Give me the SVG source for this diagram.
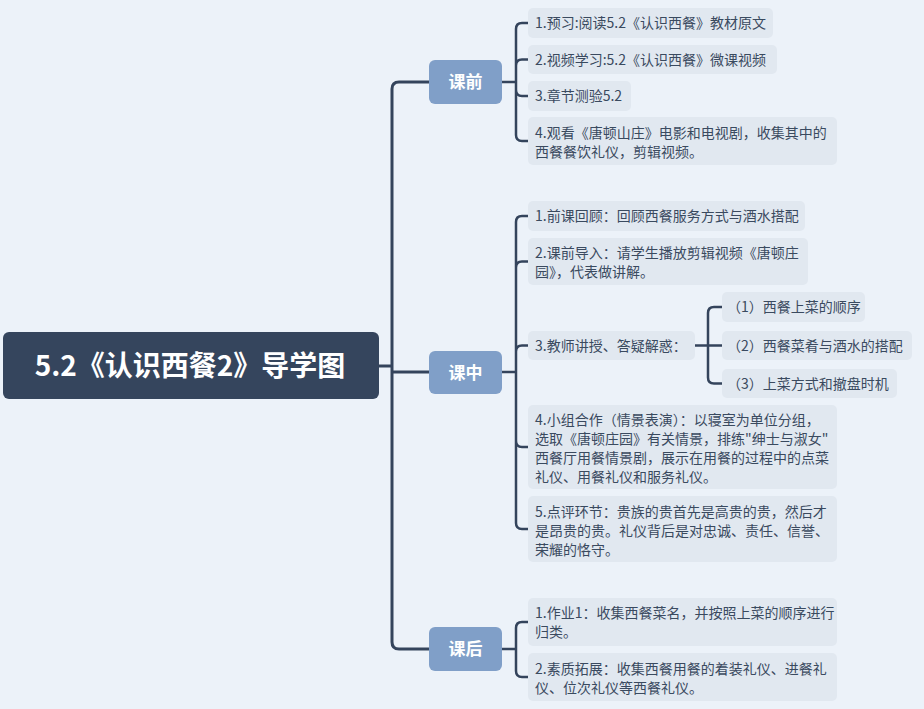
<svg xmlns="http://www.w3.org/2000/svg" width="924" height="709" viewBox="0 0 924 709">
<style>
.bg{fill:#ecf2f9}
.root{fill:#35455d}
.br{fill:#809fc8}
.leaf{fill:#e1e8f0}
.rt{font-family:"Noto Sans CJK SC","Noto Sans",sans-serif;font-size:28px;font-weight:bold;fill:#ffffff}
.bt{font-family:"Noto Sans CJK SC","Noto Sans",sans-serif;font-size:17px;font-weight:bold;fill:#ffffff}
.lt{font-family:"Noto Sans CJK SC","Noto Sans",sans-serif;font-size:14px;fill:#3a4a5f}
.c{fill:none;stroke:#34445c;stroke-width:2.5;stroke-linecap:round}
.t{fill:none;stroke:#34445c;stroke-width:3}
</style>
<rect class="bg" x="0" y="0" width="924" height="709"/>
<g id="connectors">
<path class="t" d="M379,366 H392 M392,372 H429 M392,366 V89 Q392,82 399,82 H429 M392,366 V642 Q392,649 399,649 H429"/>
<path class="c" d="M502,82 H516 M516,82 V29 Q516,23 522,23 H528 M516,82 V65.5 Q516,59.5 522,59.5 H528 M516,82 V90 Q516,96 522,96 H528 M516,82 V135 Q516,141 522,141 H528"/>
<path class="c" d="M502,372 H516 M516,372 V222 Q516,216 522,216 H528 M516,372 V267.5 Q516,261.5 522,261.5 H528 M516,372 V351.5 Q516,345.5 522,345.5 H528 M516,372 V441 Q516,447 522,447 H528 M516,372 V523 Q516,529 522,529 H528"/>
<path class="c" d="M502,649 H516 M516,649 V628 Q516,622 522,622 H528 M516,649 V671 Q516,677 522,677 H528"/>
<path class="c" d="M695,345.5 H722 M708,345.5 V313 Q708,307 714,307 H722 M708,345.5 V377.5 Q708,383.5 714,383.5 H722"/>
</g>
<g id="root">
<rect class="root" x="3" y="332" width="376" height="67" rx="6"/>
<text class="rt" x="190" y="376" text-anchor="middle">5.2《认识西餐2》导学图</text>
</g>
<g id="kq">
<rect class="br" x="429" y="60" width="73" height="44" rx="6"/>
<text class="bt" x="465.5" y="88" text-anchor="middle">课前</text>
</g>
<g id="kz">
<rect class="br" x="429" y="351" width="73" height="43" rx="6"/>
<text class="bt" x="465.5" y="378.5" text-anchor="middle">课中</text>
</g>
<g id="kh">
<rect class="br" x="429" y="627" width="73" height="44" rx="6"/>
<text class="bt" x="465.5" y="655" text-anchor="middle">课后</text>
</g>
<g id="q1">
<rect class="leaf" x="528" y="8" width="245" height="30" rx="5"/>
<text class="lt" x="535" y="28">1.预习:阅读5.2《认识西餐》教材原文</text>
</g>
<g id="q2">
<rect class="leaf" x="528" y="45" width="249" height="29" rx="5"/>
<text class="lt" x="535" y="64.5">2.视频学习:5.2《认识西餐》微课视频</text>
</g>
<g id="q3">
<rect class="leaf" x="528" y="81" width="103" height="30" rx="5"/>
<text class="lt" x="535" y="101">3.章节测验5.2</text>
</g>
<g id="q4">
<rect class="leaf" x="528" y="117" width="309" height="48" rx="5"/>
<text class="lt" x="535" y="138">4.观看《唐顿山庄》电影和电视剧，收集其中的</text>
<text class="lt" x="535" y="157">西餐餐饮礼仪，剪辑视频。</text>
</g>
<g id="z1">
<rect class="leaf" x="528" y="201" width="277" height="30" rx="5"/>
<text class="lt" x="535" y="221">1.前课回顾：回顾西餐服务方式与酒水搭配</text>
</g>
<g id="z2">
<rect class="leaf" x="528" y="238" width="280" height="47" rx="5"/>
<text class="lt" x="535" y="258">2.课前导入：请学生播放剪辑视频《唐顿庄</text>
<text class="lt" x="535" y="277">园》，代表做讲解。</text>
</g>
<g id="z3">
<rect class="leaf" x="528" y="331" width="167" height="29" rx="5"/>
<text class="lt" x="535" y="350.5">3.教师讲授、答疑解惑：</text>
</g>
<g id="z3a">
<rect class="leaf" x="722" y="292" width="143" height="30" rx="5"/>
<text class="lt" x="727" y="312">（1）西餐上菜的顺序</text>
</g>
<g id="z3b">
<rect class="leaf" x="722" y="331" width="190" height="29" rx="5"/>
<text class="lt" x="727" y="350.5">（2）西餐菜肴与酒水的搭配</text>
</g>
<g id="z3c">
<rect class="leaf" x="722" y="369" width="175" height="29" rx="5"/>
<text class="lt" x="727" y="388.5">（3）上菜方式和撤盘时机</text>
</g>
<g id="z4">
<rect class="leaf" x="528" y="405" width="309" height="84" rx="5"/>
<text class="lt" x="535" y="425">4.小组合作（情景表演）：以寝室为单位分组，</text>
<text class="lt" x="535" y="444">选取《唐顿庄园》有关情景，排练"绅士与淑女"</text>
<text class="lt" x="535" y="463">西餐厅用餐情景剧，展示在用餐的过程中的点菜</text>
<text class="lt" x="535" y="482">礼仪、用餐礼仪和服务礼仪。</text>
</g>
<g id="z5">
<rect class="leaf" x="528" y="496" width="309" height="66" rx="5"/>
<text class="lt" x="535" y="517">5.点评环节：贵族的贵首先是高贵的贵，然后才</text>
<text class="lt" x="535" y="536">是昂贵的贵。礼仪背后是对忠诚、责任、信誉、</text>
<text class="lt" x="535" y="555">荣耀的恪守。</text>
</g>
<g id="h1">
<rect class="leaf" x="528" y="598" width="309" height="48" rx="5"/>
<text class="lt" x="535" y="618">1.作业1：收集西餐菜名，并按照上菜的顺序进行</text>
<text class="lt" x="535" y="637">归类。</text>
</g>
<g id="h2">
<rect class="leaf" x="528" y="653" width="309" height="48" rx="5"/>
<text class="lt" x="535" y="674">2.素质拓展：收集西餐用餐的着装礼仪、进餐礼</text>
<text class="lt" x="535" y="693">仪、位次礼仪等西餐礼仪。</text>
</g>
</svg>
